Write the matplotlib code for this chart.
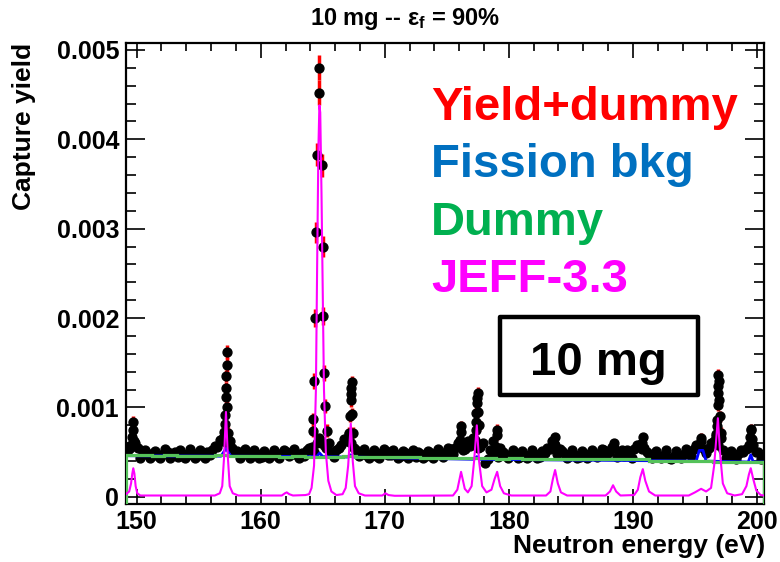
import numpy as np
import matplotlib.pyplot as plt
from matplotlib.patches import Rectangle
from matplotlib.ticker import MultipleLocator, FuncFormatter

plt.rcParams['font.family'] = ['Liberation Sans', 'DejaVu Sans']
plt.rcParams['font.weight'] = 'bold'
plt.rcParams['mathtext.fontset'] = 'custom'
plt.rcParams['mathtext.rm'] = 'Liberation Sans:bold'
plt.rcParams['mathtext.it'] = 'Liberation Sans:bold'

# measured yield, flat part (values in 1e-3), two interleaved sets of bins
base_e = np.arange(149.3, 200.55, 0.4)
base_y = [0.52, 0.58, 0.55, 0.50, 0.47, 0.49, 0.46, 0.48, 0.50, 0.47,
          0.45, 0.48, 0.47, 0.49, 0.46, 0.48, 0.50, 0.52, 0.56, 0.62,
          0.60, 0.55, 0.51, 0.47, 0.49, 0.46, 0.48, 0.45, 0.47, 0.48,
          0.46, 0.49, 0.50, 0.48, 0.47, 0.49, 0.52, 0.56, 0.60, 0.62,
          0.55, 0.50, 0.52, 0.58, 0.63, 0.60, 0.52, 0.49, 0.47, 0.48,
          0.46, 0.49, 0.51, 0.47, 0.48, 0.46, 0.49, 0.47, 0.45, 0.48,
          0.46, 0.49, 0.47, 0.48, 0.50, 0.53, 0.55, 0.58, 0.54, 0.57,
          0.62, 0.56, 0.38, 0.52, 0.49, 0.55, 0.48, 0.46, 0.48, 0.45,
          0.47, 0.46, 0.48, 0.45, 0.49, 0.53, 0.58, 0.54, 0.48, 0.46,
          0.47, 0.45, 0.48, 0.46, 0.49, 0.47, 0.52, 0.50, 0.55, 0.49,
          0.46, 0.50, 0.53, 0.58, 0.55, 0.48, 0.46, 0.45, 0.47, 0.44,
          0.46, 0.45, 0.48, 0.50, 0.54, 0.57, 0.53, 0.55, 0.62, 0.58,
          0.52, 0.47, 0.45, 0.48, 0.50, 0.55, 0.58, 0.50, 0.45]
base2_e = base_e[:-1] + 0.2
base2_y = [0.55, 0.60, 0.44, 0.52, 0.43, 0.51, 0.44, 0.53, 0.43, 0.50,
           0.52, 0.43, 0.53, 0.44, 0.52, 0.43, 0.47, 0.57, 0.64, 0.70,
           0.62, 0.50, 0.44, 0.53, 0.43, 0.52, 0.44, 0.51, 0.43, 0.52,
           0.43, 0.52, 0.46, 0.53, 0.44, 0.46, 0.55, 0.50, 0.66, 0.58,
           0.60, 0.45, 0.55, 0.65, 0.70, 0.55, 0.46, 0.53, 0.44, 0.52,
           0.44, 0.53, 0.47, 0.52, 0.43, 0.51, 0.44, 0.52, 0.50, 0.43,
           0.51, 0.44, 0.53, 0.45, 0.55, 0.48, 0.60, 0.52, 0.62, 0.66,
           0.55, 0.60, 0.42, 0.62, 0.45, 0.50, 0.44, 0.52, 0.43, 0.51,
           0.43, 0.52, 0.44, 0.51, 0.55, 0.62, 0.48, 0.51, 0.43, 0.52,
           0.44, 0.51, 0.43, 0.52, 0.45, 0.54, 0.48, 0.56, 0.45, 0.52,
           0.52, 0.44, 0.58, 0.53, 0.50, 0.44, 0.51, 0.43, 0.52, 0.42,
           0.51, 0.43, 0.53, 0.46, 0.58, 0.62, 0.49, 0.60, 0.70, 0.66,
           0.44, 0.51, 0.42, 0.52, 0.54, 0.60, 0.50, 0.42]
base_err = 0.03

# measured yield on the resonances (energy eV, yield 1e-3, error 1e-3)
peak_e = [149.55, 149.65, 149.70, 149.74, 149.80,
          157.00, 157.08, 157.12, 157.15, 157.18, 157.20, 157.22, 157.25, 157.27, 157.32, 157.40,
          164.19, 164.22, 164.30, 164.35, 164.46, 164.52, 164.73, 164.73, 164.92, 165.00,
          165.05, 165.13, 165.21, 165.32,
          167.10, 167.15, 167.20, 167.24, 167.27, 167.30, 167.33, 167.38, 167.45,
          176.05, 176.10, 176.15, 176.18,
          177.28, 177.32, 177.36, 177.39, 177.42, 177.45, 177.48, 177.52, 177.58,
          178.98, 179.03, 179.08,
          183.65, 183.75, 188.45, 190.75, 190.82, 195.50,
          196.70, 196.75, 196.78, 196.82, 196.85, 196.88, 196.90, 196.93, 196.96, 197.00, 197.08,
          199.38, 199.44, 199.50, 199.56, 199.62]
peak_y = [0.58, 0.67, 0.75, 0.84, 0.62,
          0.66, 0.73, 0.82, 0.92, 1.12, 1.22, 1.35, 1.48, 1.62, 1.00, 0.72,
          0.74, 0.87, 1.30, 2.00, 2.96, 3.83, 4.80, 4.52, 3.71, 2.80,
          2.02, 1.39, 1.02, 0.74,
          0.62, 0.72, 0.90, 1.08, 1.15, 1.22, 1.28, 0.93, 0.72,
          0.56, 0.64, 0.73, 0.79,
          0.64, 0.75, 0.84, 0.94, 1.05, 1.11, 1.16, 0.95, 0.80,
          0.56, 0.69, 0.75,
          0.60, 0.67, 0.60, 0.60, 0.67, 0.66,
          0.68, 0.79, 0.86, 1.03, 1.16, 1.24, 1.36, 1.30, 1.08, 0.90, 0.72,
          0.58, 0.67, 0.75, 0.76, 0.65]
peak_err = [0.05, 0.05, 0.06, 0.06, 0.05,
            0.05, 0.06, 0.06, 0.06, 0.07, 0.07, 0.07, 0.08, 0.08, 0.07, 0.06,
            0.07, 0.07, 0.09, 0.10, 0.12, 0.13, 0.14, 0.14, 0.13, 0.12,
            0.10, 0.09, 0.08, 0.07,
            0.05, 0.06, 0.06, 0.07, 0.07, 0.07, 0.07, 0.06, 0.06,
            0.05, 0.05, 0.06, 0.06,
            0.05, 0.06, 0.06, 0.06, 0.07, 0.07, 0.07, 0.06, 0.06,
            0.05, 0.05, 0.06,
            0.05, 0.05, 0.05, 0.05, 0.05, 0.05,
            0.05, 0.06, 0.06, 0.07, 0.07, 0.07, 0.07, 0.07, 0.07, 0.06, 0.06,
            0.05, 0.05, 0.05, 0.05, 0.05]

# dummy background histogram, 50 bins (1e-3)
dummy_edges = np.linspace(149.14, 200.6, 51)
dummy_y = [0.47, 0.47, 0.46, 0.47, 0.46, 0.46, 0.46, 0.465, 0.46, 0.455,
           0.46, 0.455, 0.45, 0.455, 0.45, 0.45, 0.45, 0.455, 0.45, 0.45,
           0.45, 0.445, 0.445, 0.43, 0.43, 0.435, 0.43, 0.43, 0.43, 0.425,
           0.43, 0.425, 0.42, 0.425, 0.42, 0.42, 0.425, 0.42, 0.42, 0.42,
           0.42, 0.405, 0.405, 0.40, 0.40, 0.40, 0.395, 0.395, 0.39, 0.39]

# fission background (1e-3)
fis_e = [149.14, 156.8, 157.2, 157.6, 164.5, 164.75, 165.0, 167.0, 167.26, 167.5,
         177.2, 177.42, 177.6, 195.1, 195.35, 195.65, 195.9, 199.3, 199.5, 199.7, 200.6]
fis_y = [0.46, 0.455, 0.54, 0.455, 0.45, 0.49, 0.45, 0.445, 0.47, 0.445,
         0.42, 0.45, 0.42, 0.40, 0.52, 0.52, 0.40, 0.39, 0.47, 0.39, 0.39]

# JEFF-3.3 calculated yield (1e-3)
jeff_e = [149.14, 149.4, 149.55, 149.65, 149.73, 149.82, 149.92, 150.05, 150.3,
          156.3, 156.7, 156.9, 157.05, 157.2, 157.35, 157.5, 157.75, 158.2,
          161.7, 161.95, 162.1, 162.3, 162.6,
          163.6, 163.9, 164.1, 164.3, 164.45, 164.55, 164.65, 164.73, 164.8, 164.9,
          165.0, 165.1, 165.25, 165.45, 165.7, 166.1,
          166.6, 166.85, 167.05, 167.26, 167.42, 167.6, 167.9, 168.4,
          169.8, 170.05, 170.3, 170.8,
          175.5, 175.85, 176.15, 176.45, 176.7, 177.0, 177.2, 177.42, 177.6, 177.85,
          178.2, 178.6, 178.85, 179.06, 179.3, 179.6, 180.2,
          183.0, 183.35, 183.55, 183.73, 183.95, 184.2, 184.7,
          187.8, 188.15, 188.4, 188.65, 189.0,
          190.1, 190.4, 190.6, 190.8, 191.0, 191.3, 191.8,
          194.5, 195.0, 195.5, 195.9, 196.3, 196.55, 196.85, 197.05, 197.25, 197.6, 198.2,
          198.8, 199.15, 199.35, 199.5, 199.7, 199.95, 200.3, 200.6]
jeff_y = [0.03, 0.06, 0.15, 0.26, 0.32, 0.26, 0.12, 0.04, 0.015,
          0.015, 0.04, 0.12, 0.45, 0.95, 0.45, 0.12, 0.04, 0.015,
          0.015, 0.04, 0.05, 0.03, 0.015,
          0.02, 0.03, 0.10, 0.35, 1.20, 2.60, 3.90, 4.38, 4.30, 3.40,
          2.30, 1.20, 0.50, 0.18, 0.06, 0.02,
          0.03, 0.10, 0.35, 0.82, 0.40, 0.12, 0.04, 0.015,
          0.015, 0.04, 0.02, 0.012,
          0.015, 0.08, 0.28, 0.09, 0.05, 0.12, 0.40, 0.80, 0.40, 0.12,
          0.05, 0.08, 0.20, 0.28, 0.12, 0.04, 0.015,
          0.015, 0.06, 0.20, 0.30, 0.15, 0.05, 0.015,
          0.015, 0.06, 0.13, 0.06, 0.015,
          0.02, 0.08, 0.22, 0.31, 0.18, 0.06, 0.015,
          0.015, 0.05, 0.09, 0.06, 0.10, 0.35, 0.88, 0.45, 0.15, 0.04, 0.015,
          0.03, 0.12, 0.25, 0.32, 0.20, 0.07, 0.02, 0.015]

s = 1e-3
fig = plt.figure(figsize=(7.8, 5.62), dpi=100)
ax = fig.add_axes([0.1615, 0.1032, 0.98 - 0.1615, 0.923 - 0.1032])

for ee, yy, er in [(base_e, base_y, base_err), (base2_e, base2_y, base_err),
                   (peak_e, peak_y, np.array(peak_err))]:
    ax.errorbar(ee, np.array(yy) * s, yerr=er * s, fmt='o', color='black', ms=6.4,
                ecolor='red', elinewidth=2.5, capsize=0, zorder=2)
ax.plot(fis_e, np.array(fis_y) * s, color='blue', lw=2, zorder=3)
ax.stairs(np.array(dummy_y) * s, dummy_edges, baseline=-0.0001, color='#55c25a',
          lw=2.3, zorder=4)
ax.plot(jeff_e, np.array(jeff_y) * s, color='#ff00ff', lw=1.5, zorder=5)

ax.set_xlim(149.14, 200.6)
ax.set_ylim(-0.00008, 0.005075)
ax.xaxis.set_major_locator(MultipleLocator(10))
ax.xaxis.set_minor_locator(MultipleLocator(2))
ax.yaxis.set_major_locator(MultipleLocator(0.001))
ax.yaxis.set_minor_locator(MultipleLocator(0.0002))
ax.yaxis.set_major_formatter(FuncFormatter(lambda v, p: '0' if abs(v) < 1e-9 else '%g' % v))
ax.tick_params(axis='both', which='both', direction='in', top=True, right=True,
               labelsize=18, width=1.2)
ax.tick_params(axis='x', which='major', length=11, pad=4)
ax.tick_params(axis='x', which='minor', length=6)
ax.tick_params(axis='y', which='major', length=14, pad=5)
ax.tick_params(axis='y', which='minor', length=7.5)
for sp in ax.spines.values():
    sp.set_linewidth(1.6)

fig.text(765 / 780, 1 - 553 / 562, 'Neutron energy (eV)', ha='right', va='baseline',
         fontsize=19, fontweight='bold')
fig.text(24 / 780, 1 - 43 / 562, 'Capture yield', ha='center', va='top', rotation=90,
         fontsize=19, fontweight='bold')
fig.text(405 / 780, 1 - 19 / 562, r'10 mg -- ε$_\mathrm{f}$ = 90%', ha='center',
         va='center', fontsize=17, fontweight='bold')

# legend texts
leg = [('Yield+dummy', 'red', 120), ('Fission bkg', '#0070c0', 176.7),
       ('Dummy', '#00b050', 235), ('JEFF-3.3', '#ff00ff', 291.7)]
for txt, col, yb in leg:
    fig.text(431 / 780, 1 - yb / 562, txt, color=col, ha='left', va='baseline',
             fontsize=34, fontweight='bold')

fig.patches.append(Rectangle((500 / 780, 1 - 395 / 562), 198 / 780, 78 / 562,
                             transform=fig.transFigure, fill=False, lw=3.2,
                             ec='black', joinstyle='round', zorder=10))
fig.text(598 / 780, 1 - 375 / 562, '10 mg', ha='center', va='baseline',
         fontsize=34, fontweight='bold')

fig.savefig('out.png', dpi=100)
